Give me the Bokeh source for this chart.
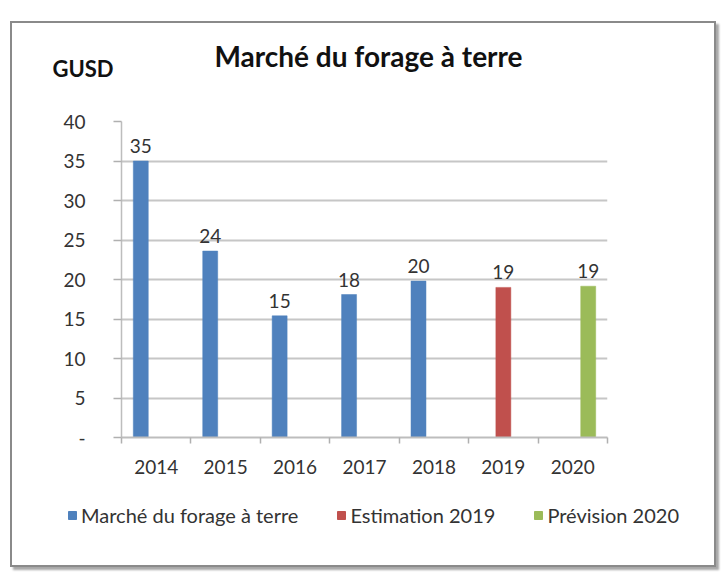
from bokeh.plotting import figure
from bokeh.layouts import column
from bokeh.models import (ColumnDataSource, Range1d, FixedTicker, Legend, LegendItem)
from bokeh.core.properties import value
from bokeh.embed import file_html
from bokeh.resources import INLINE

# ---- data ----
years = ["2014", "2015", "2016", "2017", "2018", "2019", "2020"]
marche = [35.0, 23.6, 15.4, 18.1, 19.8, None, None]
estimation = [None, None, None, None, None, 19.0, None]
prevision = [None, None, None, None, None, None, 19.15]
series_names = ["Marché du forage à terre", "Estimation 2019", "Prévision 2020"]
series_values = [marche, estimation, prevision]
colors = ["#4f81bd", "#c0504d", "#9bbb59"]
y_ticks = [0, 5, 10, 15, 20, 25, 30, 35, 40]
title_text = "Marché du forage à terre"
unit_text = "GUSD"

FONT = "Lato"
W = 702
n_series = len(series_names)
slot = 1.0 / (n_series + 1.5)

# ---- header: title + unit ----
HH = 88
header = figure(width=W, height=HH, output_backend="svg", toolbar_location=None,
                x_range=Range1d(0, W), y_range=Range1d(HH, 0),
                x_axis_type=None, y_axis_type=None, min_border=0,
                min_border_left=0, min_border_right=0, min_border_top=0,
                min_border_bottom=0, frame_align=False,
                outline_line_color=None, background_fill_color="white",
                border_fill_color="white")
header.text(x=[356], y=[32], text=[title_text], text_align="center",
            text_baseline="middle", text_font=value(FONT), text_font_size="28px",
            text_font_style="bold", text_color="#111111")
header.text(x=[40], y=[45], text=[unit_text], text_align="left",
            text_baseline="middle", text_font=value(FONT), text_font_size="22px",
            text_font_style="bold", text_color="#111111")

# ---- main chart ----
p = figure(frame_width=486, frame_height=316, output_backend="svg", toolbar_location=None,
           x_range=Range1d(0, len(years)), y_range=Range1d(0, 40),
           min_border_left=109, min_border_right=107, min_border_top=10,
           min_border_bottom=50, frame_align=False, background_fill_color="white",
           border_fill_color="white", outline_line_color=None)
p.title.visible = False

sources = []
for k, (name, vals, col) in enumerate(zip(series_names, series_values, colors)):
    xs, tops, labs = [], [], []
    for i, v in enumerate(vals):
        if v is None:
            continue
        xs.append(i + 0.5 + (k - (n_series - 1) / 2) * slot)
        tops.append(v)
        labs.append(f"{v:.0f}")
    src = ColumnDataSource(dict(x=xs, top=tops, lab=labs))
    sources.append(src)
    p.vbar(x="x", top="top", width=slot * 0.97, bottom=0, source=src,
           fill_color=col, line_color=col, line_width=0.5)
    p.text(x="x", y="top", text="lab", source=src, text_align="center",
           text_baseline="alphabetic", y_offset=-15, text_font=value(FONT),
           text_font_size="19px", text_color="#333333")

p.xaxis.ticker = FixedTicker(ticks=[i + 0.5 for i in range(len(years))],
                             minor_ticks=list(range(len(years) + 1)))
p.xaxis.major_label_overrides = {i + 0.5: y for i, y in enumerate(years)}
p.xaxis.major_tick_out = 0
p.xaxis.major_tick_in = 0
p.xaxis.minor_tick_out = 6
p.xaxis.minor_tick_in = 0
p.xaxis.minor_tick_line_color = "#b0b0b0"
p.xaxis.minor_tick_line_width = 1.5
p.xaxis.axis_line_color = "#bdbdbd"
p.xaxis.axis_line_width = 2
p.xaxis.major_label_standoff = 16
p.xaxis.major_label_text_font = FONT
p.xaxis.major_label_text_font_size = "19px"
p.xaxis.major_label_text_color = "#333333"

p.yaxis.ticker = FixedTicker(ticks=y_ticks)
p.yaxis.major_label_overrides = {0: "-"}
p.yaxis.major_tick_out = 8
p.yaxis.major_tick_in = 0
p.yaxis.major_tick_line_color = "#b0b0b0"
p.yaxis.major_tick_line_width = 1.5
p.yaxis.minor_tick_line_color = None
p.yaxis.axis_line_color = "#bdbdbd"
p.yaxis.axis_line_width = 1.5
p.yaxis.major_label_standoff = 28
p.yaxis.major_label_text_font = FONT
p.yaxis.major_label_text_font_size = "19px"
p.yaxis.major_label_text_color = "#333333"

p.xgrid.grid_line_color = None
p.ygrid.grid_line_color = "#c6c6c6"
p.ygrid.grid_line_width = 2

# ---- footer: legend (its swatch renderers sit outside the footer's visible range) ----
FH = 78
footer = figure(width=W, height=FH, output_backend="svg", toolbar_location=None,
                x_range=Range1d(0, len(years)), y_range=Range1d(100, 101),
                x_axis_type=None, y_axis_type=None, min_border=0,
                min_border_left=0, min_border_right=0, min_border_top=0,
                min_border_bottom=0, frame_align=False,
                outline_line_color=None, background_fill_color="white",
                border_fill_color="white")
items = []
for name, col, src in zip(series_names, colors, sources):
    r = footer.vbar(x="x", top="top", width=slot * 0.97, bottom=0, source=src,
                    fill_color=col, line_color=col)
    items.append(LegendItem(label=name, renderers=[r]))
legend = Legend(items=items, orientation="horizontal", location=(55, 38),
                label_text_font=FONT, label_text_font_size="20px",
                label_text_color="#333333", glyph_width=10, glyph_height=10,
                label_standoff=4, spacing=38, padding=0, margin=0,
                border_line_color=None, background_fill_alpha=0)
footer.add_layout(legend, "center")

layout = column(header, p, footer, spacing=0, margin=(21, 0, 0, 10),
                styles={"border": "2px solid #8a8a8a",
                        "box-shadow": "3px 3px 2px #a8a8a8",
                        "background-color": "white"})

open("out.html", "w").write(file_html(layout, INLINE))
